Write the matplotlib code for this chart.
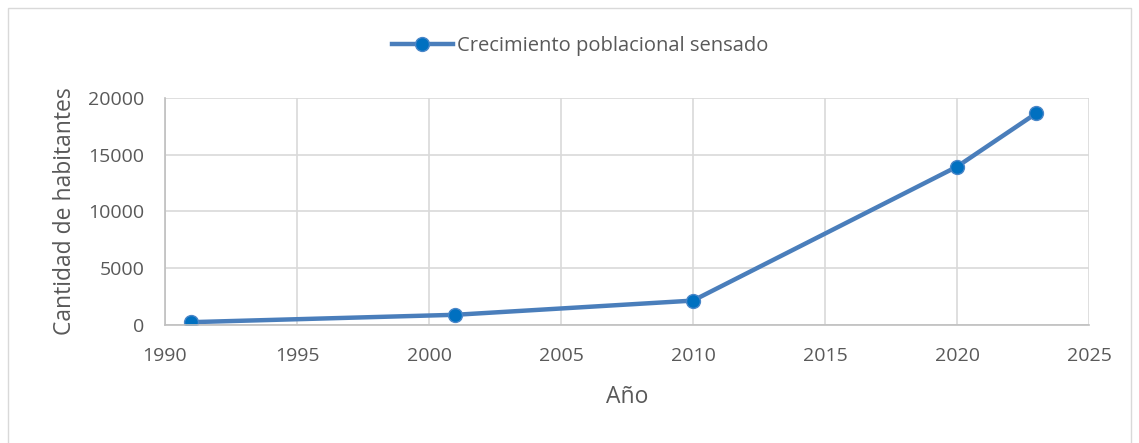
import matplotlib.pyplot as plt
from matplotlib.patches import Rectangle

# datos
anios = [1991, 2001, 2010, 2020, 2023]
habitantes = [250, 900, 2150, 13950, 18650]
serie = 'Crecimiento poblacional sensado'

plt.rcParams['font.family'] = ['Open Sans', 'DejaVu Sans']
gris = '#595959'

fig = plt.figure(figsize=(11.39, 4.43), dpi=100)
ax = fig.add_axes([165/1139, 1-325/443, (1089-165)/1139, (325-98)/443])

ax.plot(anios, habitantes, color='#4a7ebb', lw=3.2, marker='o', ms=10,
        markerfacecolor='#0070c0', markeredgecolor='#4a86c8', markeredgewidth=1,
        label=serie)

ax.set_xlim(1990, 2025)
ax.set_ylim(0, 20000)
ax.set_xticks(range(1990, 2026, 5))
ax.set_yticks(range(0, 20001, 5000))
ax.grid(True, color='#d9d9d9', lw=1.2)
ax.set_axisbelow(True)
for s in ['top', 'right']:
    ax.spines[s].set_visible(False)
for s in ['left', 'bottom']:
    ax.spines[s].set_color('#bfbfbf')
    ax.spines[s].set_linewidth(1.2)
ax.tick_params(axis='x', length=0, labelsize=14, colors=gris, pad=16)
ax.tick_params(axis='y', length=0, labelsize=14, colors=gris, pad=15)
ax.set_xlabel('Año', fontsize=16.5, color=gris, labelpad=14)
ax.set_ylabel('Cantidad de habitantes', fontsize=16.5, color=gris, labelpad=8)

ax.legend(loc='center', bbox_to_anchor=(580/1139, 1-46/443), bbox_transform=fig.transFigure,
          frameon=False, fontsize=14.5, handlelength=3, handletextpad=0.2, labelcolor=gris)

# marco exterior
fig.patches.append(Rectangle((8/1139, -0.01), (1131-8)/1139, 1-8/443+0.01,
                             transform=fig.transFigure, fill=False,
                             edgecolor='#d9d9d9', lw=1))

fig.savefig('out.png', dpi=100)
